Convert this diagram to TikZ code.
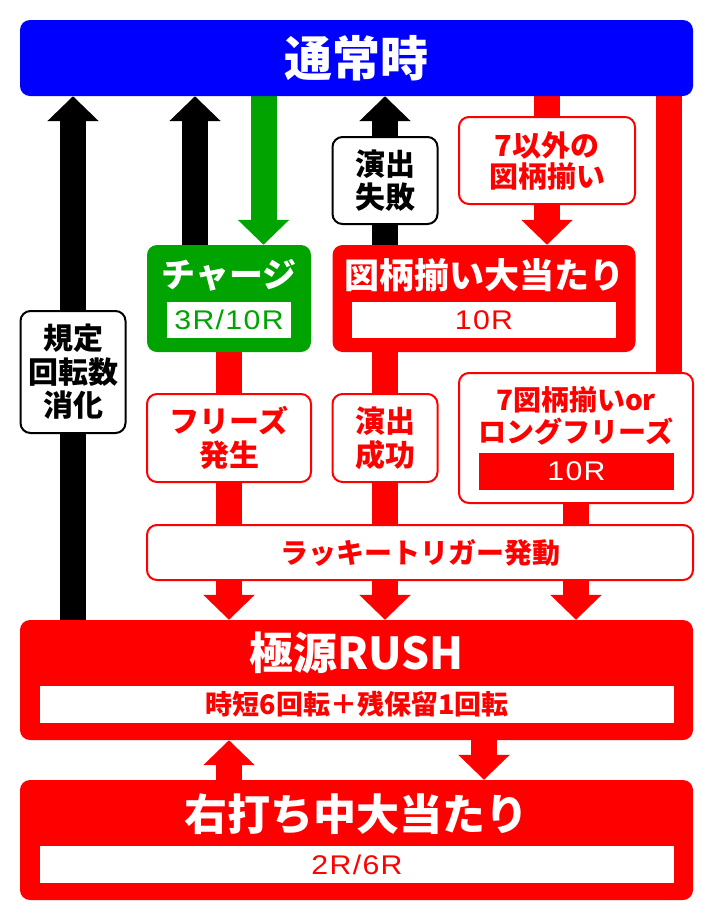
\documentclass[tikz,border=0pt]{standalone}
\usepackage{fontspec}
\setmainfont{Noto Sans CJK JP}
\newfontfamily\latn{Liberation Sans}[FakeStretch=1.12, LetterSpace=5]
\usetikzlibrary{arrows.meta,backgrounds,positioning}
\definecolor{jred}{RGB}{255,0,0}
\definecolor{jblue}{RGB}{0,0,255}
\definecolor{jgreen}{RGB}{0,163,0}
\newcommand\fsz[2]{\fontsize{#1}{#2}\selectfont}

\begin{document}
\begin{tikzpicture}[x=1pt, y=-1pt,
        box/.style={rounded corners=10pt, inner sep=0pt},
        fillbox/.style={box, fill=#1},
        linebox/.style={box, draw=#1, line width=2pt, fill=white, text=#1, align=center, font=\bfseries\fsz{30}{34}},
        inbox/.style={inner sep=0pt, fill=white, font=\latn\fsz{27}{27}},
        ttl/.style={inner sep=0pt, text=white, font=\bfseries\fsz{#1}{#1}},
        flow/.style={line width=26pt, draw=#1, -{Triangle[width=50pt, length=25pt]}},
        bar/.style={line width=26pt, draw=#1}
    ]
    \useasboundingbox (0,0) rectangle (712,922);

    % top
    \node[fillbox=jblue, minimum width=673pt, minimum height=76pt, text=white, font=\bfseries\fsz{48}{48}] (norm) at (356.5,58) {通常時};

    % first row
    \node[fillbox=jgreen, minimum width=164pt, minimum height=107pt] (charge) at (229,298.5) {};
    \node[ttl=34] (chargettl) at (229,275) {チャージ};
    \node[inbox, minimum width=124pt, minimum height=36pt, text=jgreen] (chargeval) at (229,320) {3R/10R};

    \node[fillbox=jred, minimum width=303pt, minimum height=107pt] (zugara) at (484,298.5) {};
    \node[ttl=35] (zugarattl) at (484,275) {図柄揃い大当たり};
    \node[inbox, minimum width=264pt, minimum height=36pt, text=jred] (zugaraval) at (484,320) {10R};

    \node[linebox=black, minimum width=105pt, minimum height=87pt, font=\bfseries\fsz{30}{33}] (shippai) at (385,180.5) {演出\\失敗};
    \node[linebox=jred, minimum width=176pt, minimum height=87pt, font=\bfseries\fsz{29}{31}] (igai) at (547,160.5) {7以外の\\図柄揃い};

    % middle
    \node[linebox=black, minimum width=105pt, minimum height=122pt, font=\bfseries\fsz{30}{33.5}] (kitei) at (73,372) {規定\\回転数\\消化};
    \node[linebox=jred, minimum width=164pt, minimum height=88pt] (freeze) at (229,438) {フリーズ\\発生};
    \node[linebox=jred, minimum width=105pt, minimum height=88pt] (seikou) at (385,438) {演出\\成功};
    \node[linebox=jred, minimum width=234pt, minimum height=130pt] (long) at (576,438) {};
    \node[inner sep=0pt, text=jred, align=center, font=\bfseries\fsz{28}{32}] (longttl) at (576,416) {7図柄揃いor\\ロングフリーズ};
    \node[fill=jred, inner sep=0pt, minimum width=195pt, minimum height=37pt, text=white, font=\latn\fsz{27}{27}] (longval) at (576.5,471.5) {10R};

    \node[linebox=jred, minimum width=546pt, minimum height=55pt, font=\bfseries\fsz{28}{28}] (lucky) at (420,552.5) {ラッキートリガー発動};

    % bottom
    \node[fillbox=jred, minimum width=673pt, minimum height=120pt] (rush) at (356.5,680) {};
    \node[ttl=44] (rushttl) at (356.5,653) {極源RUSH};
    \node[inbox, minimum width=634pt, minimum height=37pt, text=jred, font=\bfseries\fsz{27}{27}] (rushval) at (357,704.5) {時短6回転＋残保留1回転};

    \node[fillbox=jred, minimum width=673pt, minimum height=120pt] (migi) at (356.5,840) {};
    \node[ttl=43] (migittl) at (356.5,814) {右打ち中大当たり};
    \node[inbox, minimum width=634pt, minimum height=37pt, text=jred] (migival) at (357,864.5) {2R/6R};

    \begin{scope}[on background layer]
        \draw[flow=black] (rush.north -| kitei) -- (norm.south -| kitei);
        \draw[flow=black] ([xshift=-34pt]charge.north) -- ([xshift=-34pt]charge.north |- norm.south);
        \draw[flow=jgreen] ([xshift=34.5pt]charge.north |- norm.south) -- ([xshift=34.5pt]charge.north);
        \draw[flow=black] (zugara.north -| shippai) -- (norm.south -| shippai);
        \draw[flow=jred] (norm.south -| igai) -- (zugara.north -| igai);
        \draw[bar=jred] ([xshift=93pt]long.north |- norm.south) -- ([xshift=93pt]long.north);
        \draw[flow=jred] (charge.south) -- (rush.north -| charge);
        \draw[flow=jred] (zugara.south -| seikou) -- (rush.north -| seikou);
        \draw[flow=jred] (long.south) -- (rush.north -| long);
        \draw[flow=jred] (migi.north -| charge) -- (rush.south -| charge);
        \draw[flow=jred] (rush.south -| zugara) -- (migi.north -| zugara);
    \end{scope}
\end{tikzpicture}
\end{document}
